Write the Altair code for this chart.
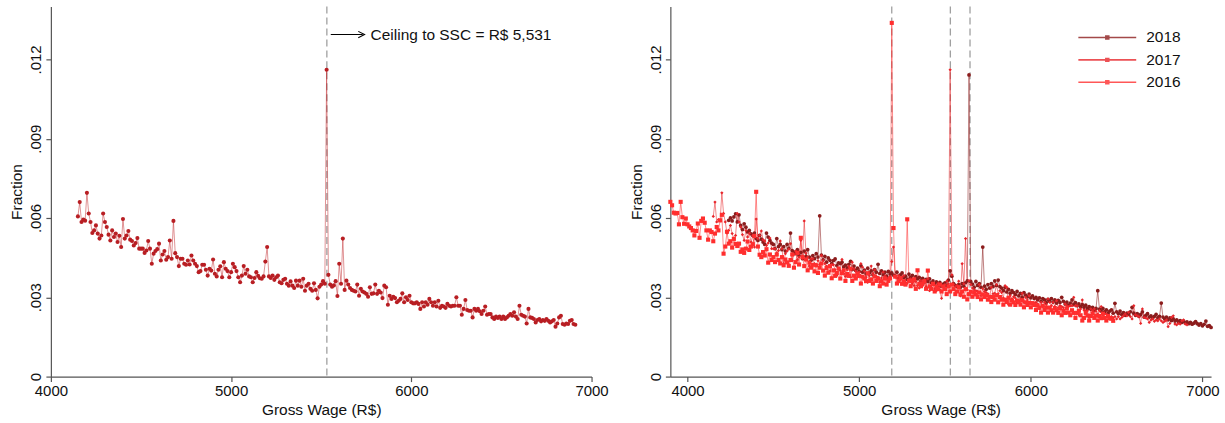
import altair as alt
import pandas as pd

FONT = "Liberation Sans"
STEP = 10  # width of a wage bin (R$)

# ---- bins start (R$) ----
start_2016 = 3900
start_2017 = 4150
start_2018 = 4240

# ---- fractions, in units of 1e-5, one row per 100 R$ ----
frac_2017 = [
    606, 660, 585, 594, 590,
    695, 617, 585, 543, 553, 572, 541, 522, 534, 617,
    585, 566, 537, 515, 553, 528, 541, 509, 533, 490,
    596, 522, 534, 551, 518, 513, 496, 505, 524, 484,
    484, 484, 468, 477, 513, 484, 427, 465, 475, 482,
    503, 439, 462, 475, 442, 452, 515, 446, 589, 467,
    452, 418, 446, 446, 427, 423, 439, 424, 458, 439,
    427, 418, 395, 399, 423, 423, 404, 382, 408, 401,
    443, 389, 379, 404, 417, 376, 433, 408, 399, 376,
    395, 427, 414, 399, 376, 357, 382, 418, 389, 404,
    379, 376, 357, 373, 395, 381, 372, 370, 379, 435,
    490, 379, 373, 382, 366, 376, 382, 357, 353, 366,
    370, 351, 344, 360, 344, 335, 363, 344, 363, 340,
    370, 325, 344, 351, 332, 325, 353, 328, 296, 340,
    348, 361, 351, 1161, 385, 348, 340, 345, 361, 305,
    427, 351, 522, 328, 363, 348, 335, 328, 325, 322,
    348, 306, 332, 322, 318, 313, 302, 338, 313, 315,
    348, 313, 325, 318, 297, 344, 338, 272, 306, 294,
    302, 297, 281, 287, 294, 315, 281, 300, 290, 306,
    281, 277, 277, 281, 275, 256, 281, 265, 281, 272,
    294, 281, 268, 281, 265, 287, 260, 268, 265, 260,
    275, 268, 265, 268, 268, 300, 268, 268, 234, 256,
    290, 252, 249, 249, 224, 256, 249, 256, 247, 237,
    249, 265, 234, 237, 237, 224, 218, 227, 222, 227,
    218, 227, 218, 224, 230, 237, 230, 243, 227, 218,
    268, 234, 230, 227, 201, 256, 224, 222, 218, 205,
    214, 218, 209, 214, 211, 218, 211, 205, 209, 214,
    189, 201, 224, 230, 199, 196, 201, 199, 211, 214,
    199, 196,
]

frac_2018 = [
    591, 600, 589, 604, 616, 585,
    612, 572, 556, 578, 565, 547, 553, 540, 534, 543,
    522, 515, 534, 520, 509, 500, 543, 528, 515, 505,
    500, 484, 522, 492, 500, 480, 492, 475, 500, 485,
    543, 477, 471, 465, 480, 458, 470, 446, 475, 455,
    480, 452, 440, 458, 446, 465, 452, 608, 460, 442,
    455, 433, 449, 440, 427, 439, 445, 420, 430, 427,
    433, 415, 422, 411, 425, 436, 405, 418, 401, 410,
    398, 420, 395, 403, 389, 410, 392, 400, 385, 405,
    395, 425, 390, 400, 385, 395, 380, 398, 388, 392,
    384, 380, 395, 372, 385, 392, 375, 380, 368, 388,
    375, 383, 366, 378, 370, 375, 362, 372, 358, 368,
    360, 370, 355, 362, 350, 358, 345, 356, 342, 350,
    355, 345, 365, 400, 380, 352, 345, 340, 348, 338,
    352, 342, 355, 362, 1141, 360, 350, 338, 360, 345,
    352, 338, 490, 342, 330, 348, 335, 352, 340, 362,
    345, 365, 340, 335, 325, 338, 320, 330, 315, 325,
    318, 310, 322, 305, 315, 300, 318, 308, 302, 312,
    298, 305, 295, 300, 290, 298, 285, 295, 290, 280,
    292, 285, 295, 282, 290, 278, 288, 280, 300, 285,
    275, 282, 270, 278, 290, 272, 280, 268, 275, 265,
    272, 262, 270, 258, 265, 255, 262, 250, 258, 325,
    255, 248, 258, 245, 252, 240, 248, 252, 240, 277,
    245, 238, 248, 235, 242, 232, 240, 235, 245, 262,
    240, 232, 238, 228, 235, 245, 225, 232, 238, 225,
    230, 222, 228, 235, 222, 228, 278, 225, 218, 225,
    215, 222, 212, 218, 210, 215, 208, 212, 205, 210,
    203, 207, 200, 205, 198, 202, 208, 200, 195, 200,
    192, 198, 210, 190, 193, 186,
]

frac_2016 = [
    661, 648, 620, 617, 619, 576, 661, 603, 578, 598,
    576, 568, 562, 553, 534, 551, 579, 525, 589, 598,
    582, 553, 518, 553, 547, 512, 541, 566, 553, 591,
    612, 465, 492, 548, 503, 512, 488, 521, 502, 494,
    503, 472, 481, 468, 484, 511, 479, 492, 501, 532,
    699, 492, 461, 452, 471, 458, 482, 431, 462, 441,
    452, 433, 462, 441, 428, 452, 421, 443, 432, 419,
    441, 462, 412, 433, 468, 424, 525, 452, 418, 443,
    402, 431, 412, 423, 398, 421, 392, 412, 428, 401,
    382, 411, 393, 418, 372, 402, 381, 392, 409, 371,
    391, 402, 362, 388, 381, 408, 362, 382, 371, 389,
    381, 352, 378, 371, 361, 391, 362, 368, 352, 379,
    362, 371, 342, 361, 352, 371, 348, 362, 371, 1338,
    562, 378, 352, 361, 372, 351, 361, 348, 595, 362,
    342, 361, 368, 332, 402, 351, 342, 352, 361, 332,
    401, 341, 332, 351, 322, 341, 331, 348, 322, 341,
    331, 312, 341, 322, 348, 331, 312, 322, 338, 311,
    322, 302, 331, 292, 312, 321, 302, 318, 311, 301,
    318, 292, 311, 301, 308, 291, 302, 282, 301, 291,
    308, 281, 301, 291, 272, 291, 282, 298, 272, 288,
    281, 271, 288, 281, 272, 289, 262, 281, 271, 279,
    262, 278, 271, 252, 269, 261, 242, 268, 252, 261,
    242, 261, 251, 242, 259, 251, 241, 258, 232, 249,
    241, 258, 242, 232, 251, 241, 222, 241, 249, 232,
    212, 222, 241, 231, 212, 229, 239, 222, 231, 212,
    229, 221, 238, 222, 212, 229, 221, 219, 211,
]

ceilings = [5189.82, 5531.31, 5645.80]
ceiling_label = "Ceiling to SSC = R$ 5,531"
years = ["2018", "2017", "2016"]
colors = {"2018": "#8C1C1C", "2017": "#E8262B", "2016": "#FF2E2E"}
y_ticks = [0, 0.003, 0.006, 0.009, 0.012]
x_ticks = [4000, 5000, 6000, 7000]


def frame(start, vals, year):
    return pd.DataFrame({
        "wage": [start + STEP * i for i in range(len(vals))],
        "frac": [v / 1e5 for v in vals],
        "year": year,
    })


d17 = frame(start_2017, frac_2017, "2017")
d18 = frame(start_2018, frac_2018, "2018")
d16 = frame(start_2016, frac_2016, "2016")
all_years = pd.concat([d18, d17, d16], ignore_index=True)

W, H = 542, 371
y_lab = "datum.value == 0 ? '0' : substring(format(datum.value, '.3f'), 1)"


def x_enc(domain):
    return alt.X("wage:Q", scale=alt.Scale(domain=domain, nice=False, zero=False),
                 axis=alt.Axis(values=x_ticks, title="Gross Wage (R$)", format="d",
                               labelFlush=False, titlePadding=4))


y_enc = alt.Y("frac:Q", scale=alt.Scale(domain=[0, 0.014], nice=False),
              axis=alt.Axis(values=y_ticks, labelExpr=y_lab, title="Fraction",
                            labelAngle=-90, labelAlign="center", labelBaseline="bottom",
                            titlePadding=4))

rule_style = dict(color="#a0a0a0", strokeDash=[7, 4], strokeWidth=1.3)

# ---------- left panel ----------
left_rule = alt.Chart(pd.DataFrame({"c": [ceilings[1]]})).mark_rule(**rule_style).encode(x="c:Q")
left_line = alt.Chart(d17).mark_line(color="#C0282D", opacity=0.5, strokeWidth=1).encode(
    x=x_enc([4000, 7000]), y=y_enc)
left_pts = alt.Chart(d17).mark_point(filled=True, color="#B81E23", size=17, opacity=1).encode(
    x="wage:Q", y="frac:Q")

ann = pd.DataFrame({"x0": [5553], "x1": [5730], "xh": [5723], "xt": [5774],
                    "y": [0.01294], "t": [ceiling_label]})
arrow_line = alt.Chart(ann).mark_rule(color="black", strokeWidth=1.1).encode(
    x="x0:Q", x2="x1:Q", y="y:Q")
arrow_head = alt.Chart(ann).mark_point(shape="M-1,-1L1,0L-1,1", filled=False, color="black",
                                       size=40, strokeWidth=1.1, opacity=1).encode(
    x="xh:Q", y="y:Q")
arrow_text = alt.Chart(ann).mark_text(align="left", baseline="middle", fontSize=15.5,
                                      font=FONT, color="#111").encode(
    x="xt:Q", y="y:Q", text="t:N")

left = alt.layer(left_rule, left_line, left_pts, arrow_line, arrow_head, arrow_text).properties(
    width=W, height=H)

# ---------- right panel ----------
right_rules = alt.Chart(pd.DataFrame({"c": ceilings})).mark_rule(**rule_style).encode(x="c:Q")

legend_path = "M-1,0H1M-0.05,-0.05H0.05V0.05H-0.05Z"
right_lines = alt.Chart(all_years).mark_line(opacity=0.55, strokeWidth=1).encode(
    x=x_enc([3900, 7050]), y=y_enc,
    color=alt.Color("year:N", scale=alt.Scale(domain=years, range=[colors[y] for y in years]),
                    legend=alt.Legend(title=None, orient="none", legendX=1029, legendY=22,
                                      symbolType=legend_path, symbolSize=3364,
                                      symbolStrokeWidth=1.6, clipHeight=18, rowPadding=4.5,
                                      labelFontSize=15.5, labelFont=FONT, labelColor="#111",
                                      labelOffset=9, symbolOpacity=0.8)),
    detail="year:N")

marker = {"2018": ("circle", 14), "2017": ("diamond", 11), "2016": ("square", 17)}
pts_layers = []
for yr in years:
    shp, sz = marker[yr]
    pts_layers.append(
        alt.Chart(all_years).transform_filter(alt.datum.year == yr).mark_point(
            filled=True, shape=shp, size=sz, color=colors[yr], opacity=1).encode(
            x="wage:Q", y="frac:Q"))

right = alt.layer(right_rules, right_lines, *pts_layers).properties(width=W, height=H)

chart = alt.hconcat(left, right, spacing=21).properties(
    padding={"left": 10, "top": 5, "right": 5, "bottom": 5}
).configure_view(stroke=None).configure_axis(
    grid=False, domainColor="#555555", domainWidth=1.2, tickColor="#555555", tickWidth=1.2,
    tickSize=5, labelFont=FONT, labelFontSize=15, labelColor="#111111", labelPadding=2,
    titleFont=FONT, titleFontSize=15.5, titleFontWeight="normal", titleColor="#111111"
).configure_legend(labelFont=FONT)

chart.save("out.html", embed_options={"renderer": "svg", "actions": False})
